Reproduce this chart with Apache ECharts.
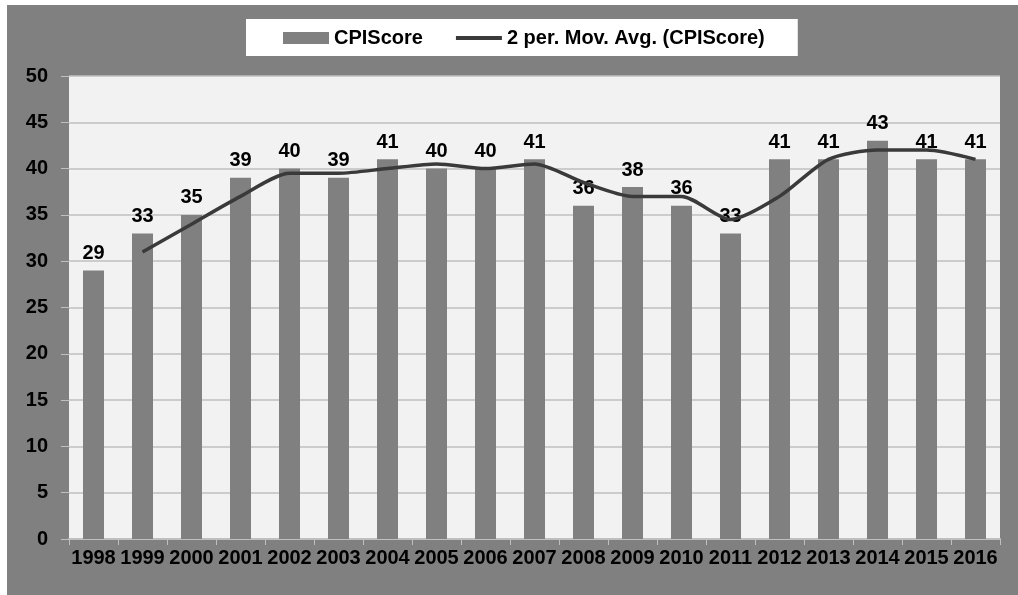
<!DOCTYPE html>
<html>
<head>
<meta charset="utf-8">
<script src="https://cdn.jsdelivr.net/npm/echarts@6/dist/echarts.min.js"></script>
<style>
html,body{margin:0;padding:0;background:#ffffff;}
#bg{position:absolute;left:7px;top:5px;width:1011px;height:590px;background:#808080;}
#chart{position:absolute;left:0;top:0;width:1018px;height:595px;}
</style>
</head>
<body>
<div id="bg"></div>
<div id="chart"></div>
<script>
const years = ['1998','1999','2000','2001','2002','2003','2004','2005','2006','2007','2008','2009','2010','2011','2012','2013','2014','2015','2016'];
const cpiScore = [29,33,35,39,40,39,41,40,40,41,36,38,36,33,41,41,43,41,41];
const movAvg = [null,31,34,37,39.5,39.5,40,40.5,40,40.5,38.5,37,37,34.5,37,41,42,42,41];
const yTicks = {min:0, max:50, interval:5};

const font = '"Liberation Sans", Arial, sans-serif';
const chart = echarts.init(document.getElementById('chart'), null, {renderer:'canvas'});
chart.setOption({
  backgroundColor: 'transparent',
  animation: false,
  textStyle: {fontFamily: font},
  legend: {
    left: 246, top: 19,
    backgroundColor: '#ffffff',
    padding: [9, 33, 8, 37],
    itemWidth: 46, itemHeight: 12, itemGap: 33,
    textStyle: {fontFamily: font, fontWeight: 'bold', fontSize: 20, color: '#000'},
    data: [
      {name: 'CPIScore', icon: 'rect'},
      {name: '2 per. Mov. Avg. (CPIScore)', icon: 'path://M0,0L46,0L46,4L0,4Z'}
    ]
  },
  grid: {
    left: 69, top: 76, width: 931, height: 463,
    show: true, backgroundColor: '#f2f2f2', borderColor: '#a6a6a6', borderWidth: 0
  },
  xAxis: {
    type: 'category', data: years,
    axisLine: {show: true, lineStyle: {color: '#bfbfbf', width: 2}},
    axisTick: {show: true, length: 6, lineStyle: {color: '#bfbfbf'}},
    axisLabel: {fontFamily: font, fontWeight: 'bold', fontSize: 20, color: '#000', margin: 9, interval: 0}
  },
  yAxis: {
    type: 'value', min: yTicks.min, max: yTicks.max, interval: yTicks.interval,
    axisLine: {show: false},
    axisTick: {show: true, length: 8, lineStyle: {color: '#bfbfbf'}},
    splitLine: {lineStyle: {color: '#bfbfbf', width: 1.5}},
    axisLabel: {fontFamily: font, fontWeight: 'bold', fontSize: 20, color: '#000', margin: 21}
  },
  series: [
    {
      name: 'CPIScore', type: 'bar', data: cpiScore, barWidth: 21,
      itemStyle: {color: '#808080'},
      label: {show: true, position: 'top', distance: 7, fontFamily: font, fontWeight: 'bold', fontSize: 20, color: '#000'}
    },
    {
      name: '2 per. Mov. Avg. (CPIScore)', type: 'line', data: movAvg,
      symbol: 'none', showSymbol: false, smooth: 0.25, connectNulls: false,
      lineStyle: {color: '#3a3a3a', width: 3.5},
      itemStyle: {color: '#3a3a3a'},
      z: 5
    }
  ]
});
</script>
</body>
</html>
